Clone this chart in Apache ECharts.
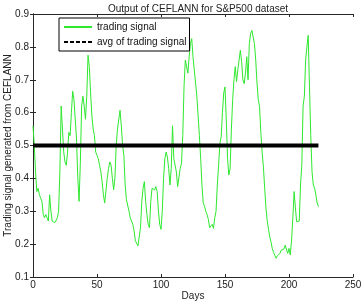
<!DOCTYPE html>
<html>
<head>
<meta charset="utf-8">
<script src="https://cdn.jsdelivr.net/npm/echarts@6/dist/echarts.min.js"></script>
<style>
  html, body { margin: 0; padding: 0; background: #fff; }
  #chart { width: 363px; height: 304px; }
</style>
</head>
<body>
<div id="chart"></div>
<script>
// values, one per day (day 0 .. 223)
const signal = [
  0.56, 0.50, 0.42, 0.36, 0.37, 0.35, 0.34, 0.33, 0.29, 0.28,
  0.29, 0.28, 0.27, 0.35, 0.30, 0.27, 0.27, 0.265, 0.27, 0.28,
  0.30, 0.42, 0.62, 0.55, 0.48, 0.45, 0.44, 0.48, 0.54, 0.53,
  0.60, 0.665, 0.64, 0.58, 0.52, 0.40, 0.33, 0.45, 0.62, 0.65,
  0.62, 0.58, 0.65, 0.775, 0.74, 0.66, 0.59, 0.55, 0.53, 0.48,
  0.47, 0.46, 0.44, 0.42, 0.39, 0.35, 0.325, 0.32, 0.40, 0.43,
  0.45, 0.44, 0.40, 0.365, 0.40, 0.50, 0.55, 0.55, 0.607, 0.56,
  0.50, 0.47, 0.38, 0.335, 0.33, 0.30, 0.28, 0.275, 0.26, 0.24,
  0.21, 0.205, 0.195, 0.19, 0.25, 0.33, 0.37, 0.39, 0.33, 0.29,
  0.26, 0.25, 0.33, 0.37, 0.375, 0.365, 0.375, 0.36, 0.30, 0.26,
  0.245, 0.30, 0.40, 0.46, 0.48, 0.465, 0.43, 0.38, 0.43, 0.56,
  0.46, 0.465, 0.42, 0.375, 0.37, 0.43, 0.445, 0.53, 0.68, 0.76,
  0.755, 0.72, 0.77, 0.81, 0.825, 0.77, 0.73, 0.69, 0.65, 0.59,
  0.53, 0.46, 0.38, 0.325, 0.315, 0.30, 0.29, 0.275, 0.25, 0.255,
  0.26, 0.248, 0.28, 0.30, 0.38, 0.44, 0.506, 0.526, 0.60, 0.66,
  0.678, 0.58, 0.46, 0.41, 0.43, 0.55, 0.64, 0.70, 0.74, 0.694,
  0.73, 0.76, 0.79, 0.755, 0.70, 0.688, 0.72, 0.77, 0.70, 0.81,
  0.84, 0.85, 0.83, 0.81, 0.76, 0.69, 0.64, 0.618, 0.54, 0.48,
  0.435, 0.37, 0.31, 0.27, 0.245, 0.222, 0.205, 0.185, 0.175, 0.165,
  0.157, 0.165, 0.17, 0.172, 0.182, 0.177, 0.185, 0.197, 0.197, 0.172,
  0.187, 0.167, 0.21, 0.28, 0.36, 0.31, 0.268, 0.268, 0.27, 0.38,
  0.44, 0.62, 0.65, 0.76, 0.80, 0.835, 0.68, 0.53, 0.42, 0.38,
  0.37, 0.35, 0.325, 0.314
];
const avgLevel = 0.5;
const xTicks = [0, 50, 100, 150, 200, 250];
const yTicks = [0.1, 0.2, 0.3, 0.4, 0.5, 0.6, 0.7, 0.8, 0.9];

const signalData = signal.map((v, i) => [i, v]);
const avgData = signal.map((v, i) => [i, avgLevel]);

const font = 'Liberation Sans, Arial, sans-serif';
const axisCol = '#262626';

const chart = echarts.init(document.getElementById('chart'), null, { renderer: 'canvas' });

const tickStyle = { show: true, inside: true, length: 3, lineStyle: { color: axisCol } };

chart.setOption({
  animation: false,
  backgroundColor: '#fff',
  title: {
    text: 'Output of CEFLANN for S&P500 dataset',
    left: 193,
    top: -1,
    textAlign: 'center',
    textStyle: { fontFamily: font, fontSize: 10, fontWeight: 'normal', color: '#222' }
  },
  legend: {
    orient: 'vertical',
    left: 59,
    top: 18,
    padding: [4, 3, 4, 4],
    itemGap: 5,
    itemWidth: 28,
    itemHeight: 10,
    backgroundColor: '#fff',
    borderColor: '#000',
    borderWidth: 1,
    itemStyle: { opacity: 0 },
    textStyle: { fontFamily: font, fontSize: 10, color: '#111' },
    data: [
      { name: 'trading signal' },
      { name: 'avg of trading signal', lineStyle: { width: 2, type: [4, 2] } }
    ]
  },
  grid: { left: 33, right: 10, top: 14, bottom: 27, outerBoundsMode: 'none' },
  xAxis: [
    {
      type: 'value', min: 0, max: 250, interval: 50,
      name: 'Days', nameLocation: 'middle', nameGap: 14, nameMoveOverlap: false,
      nameTextStyle: { fontFamily: font, fontSize: 10, color: '#222' },
      axisLine: { show: true, lineStyle: { color: axisCol } },
      axisTick: tickStyle,
      axisLabel: { fontFamily: font, fontSize: 10, color: '#222', margin: 3,
        formatter: v => xTicks.includes(v) ? String(v) : '' },
      splitLine: { show: false }
    },
    {
      type: 'value', min: 0, max: 250, interval: 50, position: 'top',
      axisLine: { show: true, lineStyle: { color: axisCol } },
      axisTick: tickStyle, axisLabel: { show: false }, splitLine: { show: false }
    }
  ],
  yAxis: [
    {
      type: 'value', min: 0.1, max: 0.9, interval: 0.1,
      name: 'Trading signal generated from CEFLANN', nameLocation: 'middle', nameGap: 20,
      nameMoveOverlap: false,
      nameTextStyle: { fontFamily: font, fontSize: 10, color: '#222' },
      axisLine: { show: true, lineStyle: { color: axisCol } },
      axisTick: tickStyle,
      axisLabel: { fontFamily: font, fontSize: 10, color: '#222', margin: 4,
        formatter: v => {
          const r = Math.round(v * 10) / 10;
          return yTicks.includes(r) ? r.toFixed(1) : '';
        } },
      splitLine: { show: false }
    },
    {
      type: 'value', min: 0.1, max: 0.9, interval: 0.1, position: 'right',
      axisLine: { show: true, lineStyle: { color: axisCol } },
      axisTick: tickStyle, axisLabel: { show: false }, splitLine: { show: false }
    }
  ],
  series: [
    {
      name: 'trading signal',
      type: 'line',
      data: signalData,
      showSymbol: false,
      symbol: 'none',
      color: '#2ee82e',
      lineStyle: { color: '#2ee82e', width: 1 },
      z: 2
    },
    {
      name: 'avg of trading signal',
      type: 'line',
      data: avgData,
      showSymbol: false,
      symbol: 'none',
      color: '#000',
      lineStyle: { color: '#000', width: 4, type: 'solid' },
      z: 3
    }
  ]
});
</script>
</body>
</html>
